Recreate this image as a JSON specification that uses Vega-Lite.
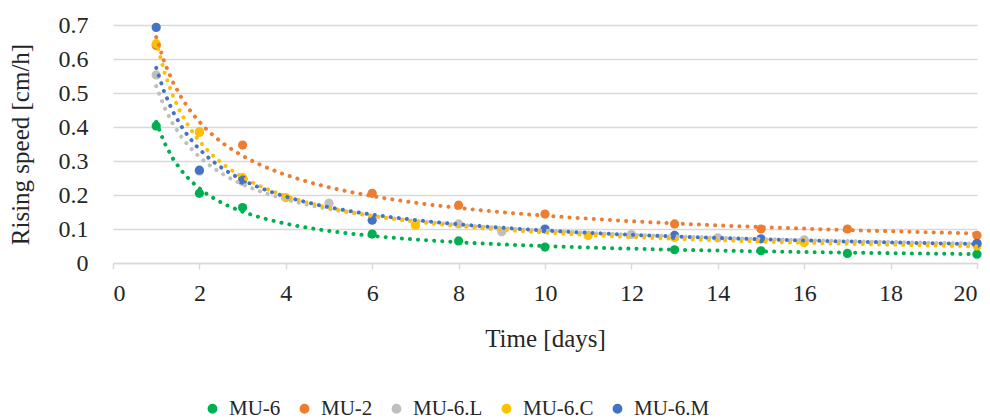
{
  "$schema": "https://vega.github.io/schema/vega-lite/v6.json",
  "width": 864,
  "height": 238,
  "autosize": {"type": "none"},
  "padding": {"left": 113, "top": 25, "right": 13, "bottom": 156},
  "background": "white",
  "config": {
    "view": {"stroke": null},
    "font": "Liberation Serif"
  },
  "data": {
    "values": [
      {"s": "MU-6", "t": 1, "v": 0.403}, {"s": "MU-6", "t": 2, "v": 0.205}, {"s": "MU-6", "t": 3, "v": 0.163}, {"s": "MU-6", "t": 6, "v": 0.085}, {"s": "MU-6", "t": 8, "v": 0.065}, {"s": "MU-6", "t": 10, "v": 0.047}, {"s": "MU-6", "t": 13, "v": 0.039}, {"s": "MU-6", "t": 15, "v": 0.036}, {"s": "MU-6", "t": 17, "v": 0.028}, {"s": "MU-6", "t": 20, "v": 0.026},
      {"s": "MU-2", "t": 1, "v": 0.64}, {"s": "MU-2", "t": 2, "v": 0.385}, {"s": "MU-2", "t": 3, "v": 0.347}, {"s": "MU-2", "t": 6, "v": 0.205}, {"s": "MU-2", "t": 8, "v": 0.17}, {"s": "MU-2", "t": 10, "v": 0.144}, {"s": "MU-2", "t": 13, "v": 0.115}, {"s": "MU-2", "t": 15, "v": 0.1}, {"s": "MU-2", "t": 17, "v": 0.1}, {"s": "MU-2", "t": 20, "v": 0.081},
      {"s": "MU-6.L", "t": 1, "v": 0.553}, {"s": "MU-6.L", "t": 2, "v": 0.27}, {"s": "MU-6.L", "t": 3, "v": 0.24}, {"s": "MU-6.L", "t": 5, "v": 0.176}, {"s": "MU-6.L", "t": 8, "v": 0.115}, {"s": "MU-6.L", "t": 9, "v": 0.092}, {"s": "MU-6.L", "t": 12, "v": 0.084}, {"s": "MU-6.L", "t": 14, "v": 0.074}, {"s": "MU-6.L", "t": 16, "v": 0.068}, {"s": "MU-6.L", "t": 20, "v": 0.058},
      {"s": "MU-6.C", "t": 1, "v": 0.645}, {"s": "MU-6.C", "t": 2, "v": 0.385}, {"s": "MU-6.C", "t": 3, "v": 0.251}, {"s": "MU-6.C", "t": 4, "v": 0.192}, {"s": "MU-6.C", "t": 7, "v": 0.111}, {"s": "MU-6.C", "t": 11, "v": 0.081}, {"s": "MU-6.C", "t": 13, "v": 0.075}, {"s": "MU-6.C", "t": 16, "v": 0.06}, {"s": "MU-6.C", "t": 20, "v": 0.05},
      {"s": "MU-6.M", "t": 1, "v": 0.693}, {"s": "MU-6.M", "t": 2, "v": 0.273}, {"s": "MU-6.M", "t": 3, "v": 0.244}, {"s": "MU-6.M", "t": 6, "v": 0.126}, {"s": "MU-6.M", "t": 10, "v": 0.1}, {"s": "MU-6.M", "t": 13, "v": 0.081}, {"s": "MU-6.M", "t": 15, "v": 0.071}, {"s": "MU-6.M", "t": 20, "v": 0.058}
    ]
  },
  "encoding": {
    "x": {"field": "t", "type": "quantitative", "scale": {"domain": [0, 20], "nice": false}, "axis": {"title": "Time [days]", "values": [0,2,4,6,8,10,12,14,16,18,20], "grid": false, "domainColor": "#d9d9d9", "domainWidth": 1.5, "tickColor": "#d9d9d9", "tickSize": 6, "tickWidth": 1.5, "labelPadding": 12, "titlePadding": 21, "labelFont": "Liberation Serif", "titleFont": "Liberation Serif", "labelFontSize": 24, "titleFontSize": 25, "titleFontWeight": "normal", "labelColor": "#262626", "titleColor": "#262626", "labelOverlap": false}},
    "y": {"field": "v", "type": "quantitative", "scale": {"domain": [0, 0.7], "nice": false}, "axis": {"title": "Rising speed [cm/h]", "values": [0,0.1,0.2,0.3,0.4,0.5,0.6,0.7], "format": "~g", "domain": false, "ticks": false, "gridColor": "#d9d9d9", "gridWidth": 1.5, "labelPadding": 25, "titlePadding": 25, "labelFont": "Liberation Serif", "titleFont": "Liberation Serif", "labelFontSize": 24, "titleFontSize": 25, "titleFontWeight": "normal", "labelColor": "#262626", "titleColor": "#262626", "labelOverlap": false}},
    "color": {"field": "s", "type": "nominal", "scale": {"domain": ["MU-6", "MU-2", "MU-6.L", "MU-6.C", "MU-6.M"], "range": ["#00B050", "#ED7D31", "#BFBFBF", "#FFC000", "#4472C4"]}, "legend": {"title": null, "orient": "none", "direction": "horizontal", "legendX": 89, "legendY": 373, "symbolType": "circle", "symbolSize": 70, "columnPadding": 13, "labelOffset": 6, "labelFont": "Liberation Serif", "labelFontSize": 21, "labelColor": "#262626"}}
  },
  "layer": [
    {
      "mark": {"type": "point", "filled": true, "size": 85, "opacity": 1}
    },
    {
      "transform": [{"regression": "v", "on": "t", "groupby": ["s"], "method": "pow", "extent": [1, 20]}],
      "mark": {"type": "line", "strokeDash": [0.1, 8], "strokeCap": "round", "strokeWidth": 4}
    }
  ]
}
